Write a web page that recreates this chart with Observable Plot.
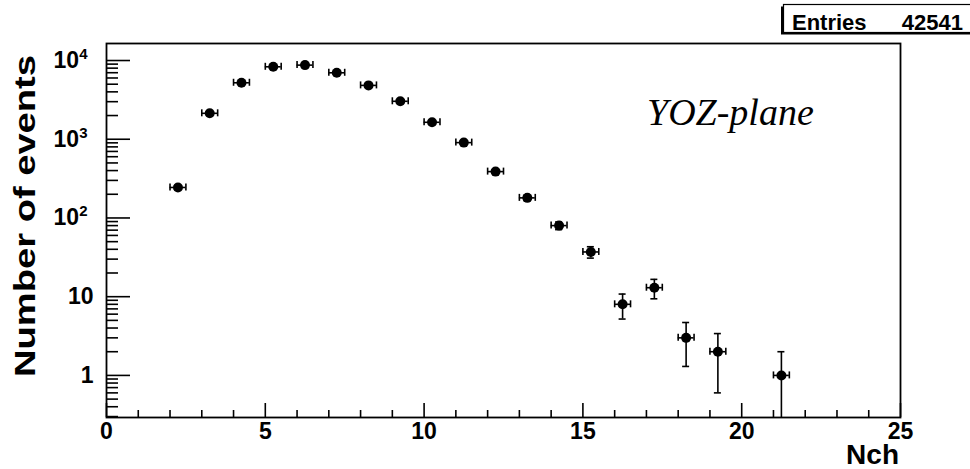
<!DOCTYPE html>
<html><head><meta charset="utf-8">
<script src="https://cdn.jsdelivr.net/npm/d3@7"></script>
<script src="https://cdn.jsdelivr.net/npm/@observablehq/plot@0.6"></script>
<style>
html,body{margin:0;padding:0;background:#fff;}
#chart{width:970px;height:469px;overflow:hidden;}
svg{display:block;}
</style></head><body><div id="chart"></div>
<script>
// ---- data ----
const binCenters = [2.25, 3.25, 4.25, 5.25, 6.25, 7.25, 8.25, 9.25, 10.25, 11.25, 12.25, 13.25, 14.25, 15.25, 16.25, 17.25, 18.25, 19.25, 21.25];
const counts     = [244, 2135, 5215, 8320, 8740, 6985, 4830, 3035, 1642, 906, 388, 180, 80, 37, 8, 13, 3, 2, 1];
const errors     = [15.6, 46.2, 72.2, 91.2, 93.5, 83.6, 69.5, 55.1, 40.5, 30.1, 19.7, 13.4, 8.9, 6.1, 2.8, 3.6, 1.7, 1.4, 1.0];
const binHalfWidth = 0.25;
const xTickValues = [0, 5, 10, 15, 20, 25];
const xTickLabels = ["0", "5", "10", "15", "20", "25"];
const yTickValues = [1, 10, 100, 1000, 10000];
const yTickLabels = ["1", "10", "10^2", "10^3", "10^4"];
const xTitle = "Nch";
const yTitle = "Number of events";
const annotation = "YOZ-plane";
const statsName = "Entries";
const statsValue = "42541";
const xDomain = [0, 25];
const yDomain = [0.292, 16450];

// ---- build table ----
const data = binCenters.map((x, i) => ({x, y: counts[i], e: errors[i]}));
const yMin = yDomain[0];
const lowClamp = d => Math.max(d.y - d.e, yMin);

// minor ticks
const xMinor = d3.range(xDomain[0], xDomain[1] + 1).filter(v => !xTickValues.includes(v));
const yMinor = [];
for (let p = -1; p <= 4; p++) for (let k = 2; k <= 9; k++) {
  const v = k * Math.pow(10, p);
  if (v >= yDomain[0] && v <= yDomain[1]) yMinor.push(v);
}

const W = 970, H = 469, mL = 106, mR = 70, mT = 43, mB = 52;
const innerW = W - mL - mR, innerH = H - mT - mB;
const sw = 1.6;

const chart = Plot.plot({
  width: W, height: H,
  marginLeft: mL, marginRight: mR, marginTop: mT, marginBottom: mB,
  style: {background: "white", color: "black", fontFamily: "'Liberation Sans', Arial, Helvetica, sans-serif", fontSize: "23px", fontWeight: "bold"},
  x: {domain: xDomain},
  y: {type: "log", domain: yDomain},
  marks: [
    // axis ticks (inside the frame, ROOT style)
    Plot.ruleY(yTickValues, {y: d => d, insetRight: innerW - 24, stroke: "black", strokeWidth: sw}),
    Plot.ruleY(yMinor, {y: d => d, insetRight: innerW - 12, stroke: "black", strokeWidth: sw}),
    Plot.ruleX(xTickValues, {x: d => d, insetTop: innerH - 14, stroke: "black", strokeWidth: sw}),
    Plot.ruleX(xMinor, {x: d => d, insetTop: innerH - 7, stroke: "black", strokeWidth: sw}),
    Plot.axisX({ticks: xTickValues, tickSize: 0, tickPadding: 5, label: null,
      tickFormat: d => xTickLabels[xTickValues.indexOf(d)], fontSize: 23, fontWeight: "bold"}),
    Plot.axisY({ticks: yTickValues, tickSize: 0, tickPadding: 13, label: null,
      tickFormat: d => yTickLabels[yTickValues.indexOf(d)], fontSize: 23, fontWeight: "bold"}),
    // vertical error bars
    Plot.ruleX(data, {x: "x", y1: lowClamp, y2: d => d.y + d.e, stroke: "black", strokeWidth: sw}),
    Plot.ruleY(data, {y: d => d.y + d.e, x1: "x", x2: "x", insetLeft: -3.5, insetRight: -3.5, stroke: "black", strokeWidth: sw}),
    Plot.ruleY(data.filter(d => d.y - d.e > yMin), {y: d => d.y - d.e, x1: "x", x2: "x", insetLeft: -3.5, insetRight: -3.5, stroke: "black", strokeWidth: sw}),
    // horizontal error bars
    Plot.ruleY(data, {y: "y", x1: d => d.x - binHalfWidth, x2: d => d.x + binHalfWidth, stroke: "black", strokeWidth: sw}),
    Plot.ruleX(data, {x: d => d.x - binHalfWidth, y1: "y", y2: "y", insetTop: -3.5, insetBottom: -3.5, stroke: "black", strokeWidth: sw}),
    Plot.ruleX(data, {x: d => d.x + binHalfWidth, y1: "y", y2: "y", insetTop: -3.5, insetBottom: -3.5, stroke: "black", strokeWidth: sw}),
    // markers
    Plot.dot(data, {x: "x", y: "y", r: 5, fill: "black", stroke: "none"}),
    Plot.frame({stroke: "black", strokeWidth: 1.8})
  ]
});

document.getElementById("chart").appendChild(chart);
const svg = d3.select(chart);

// superscripts on y tick labels (10^n)
svg.selectAll('g[aria-label="y-axis tick label"] text').each(function () {
  const t = d3.select(this);
  const s = t.text();
  if (s.includes("^")) {
    const [base, exp] = s.split("^");
    t.text(null);
    t.attr("dx", -6);
    t.append("tspan").text(base);
    t.append("tspan").attr("dy", -9).attr("font-size", 15).text(exp);
  }
});

const font = "'Liberation Sans', Arial, Helvetica, sans-serif";
// y title
svg.append("text")
  .attr("transform", "translate(35,377) rotate(-90)")
  .attr("text-anchor", "start")
  .attr("font-family", font).attr("font-weight", "bold").attr("font-size", 30)
  .attr("textLength", 322).attr("lengthAdjust", "spacingAndGlyphs")
  .attr("fill", "black")
  .text(yTitle);
// x title
svg.append("text")
  .attr("x", 899).attr("y", 464).attr("text-anchor", "end")
  .attr("font-family", font).attr("font-weight", "bold").attr("font-size", 28)
  .attr("fill", "black")
  .text(xTitle);
// annotation
svg.append("text")
  .attr("x", 647).attr("y", 125).attr("text-anchor", "start")
  .attr("font-family", "'Liberation Serif', 'Times New Roman', serif")
  .attr("font-style", "italic").attr("font-weight", "normal").attr("font-size", 38)
  .attr("fill", "black")
  .text(annotation);
// stats box
const box = svg.append("g");
box.append("rect").attr("x", 781).attr("y", 6.5).attr("width", 190).attr("height", 28).attr("fill", "black");
box.append("rect").attr("x", 783.5).attr("y", 4.5).attr("width", 190).attr("height", 28)
  .attr("fill", "white").attr("stroke", "black").attr("stroke-width", 1.2);
box.append("text").attr("x", 792).attr("y", 30).attr("text-anchor", "start")
  .attr("font-family", font).attr("font-weight", "bold").attr("font-size", 22).attr("fill", "black").text(statsName);
box.append("text").attr("x", 963).attr("y", 30).attr("text-anchor", "end")
  .attr("font-family", font).attr("font-weight", "bold").attr("font-size", 22).attr("fill", "black").text(statsValue);
</script>
</body></html>
